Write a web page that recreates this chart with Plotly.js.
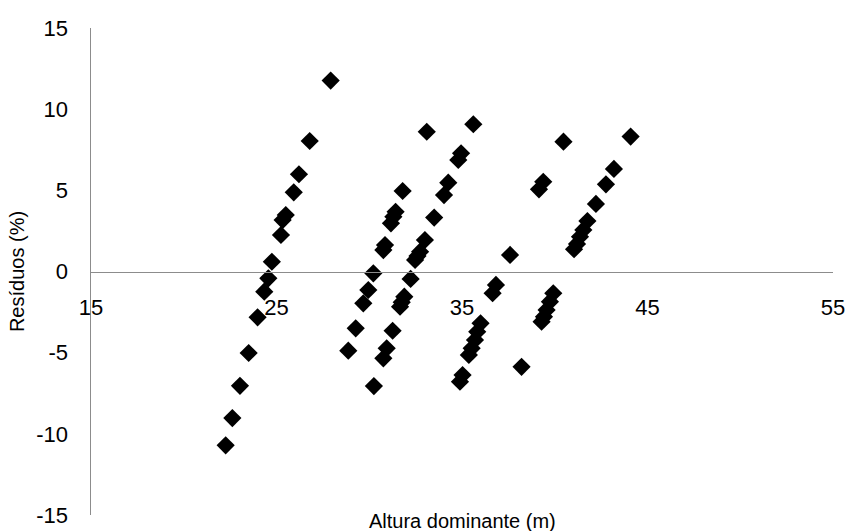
<!DOCTYPE html>
<html>
<head>
<meta charset="utf-8">
<script src="https://cdn.plot.ly/plotly-3.0.1.min.js"></script>
<style>html,body{margin:0;padding:0;background:#fff;}#chart{width:849px;height:531px;}</style>
</head>
<body>
<div id="chart"></div>
<script>
// Altura dominante (m)
const alturaDominante = [
  22.26, 22.62, 23.03, 23.50, 23.98, 24.34, 24.56, 24.75, 25.24, 25.33, 25.50, 25.93, 26.21, 26.79, 27.92,
  28.87, 29.27, 29.68, 29.95, 30.22, 30.25, 30.76, 30.85, 31.17, 31.30, 31.42, 31.80,
  30.76, 30.94, 31.26, 31.66, 31.75, 31.89, 32.23, 32.47, 32.60, 32.74, 33.00, 33.10, 33.50, 34.03, 34.26, 34.80, 34.95, 35.61,
  34.89, 35.03, 35.37, 35.52, 35.70, 35.82, 36.00, 36.65, 36.83, 37.59, 38.21,
  39.15, 39.38, 40.47, 39.29, 39.42, 39.56, 39.74, 39.92,
  41.04, 41.20, 41.36, 41.54, 41.76, 42.22, 42.76, 43.19, 44.09
];
// Resíduos (%)
const residuos = [
  -10.71, -9.03, -7.04, -5.02, -2.82, -1.24, -0.42, 0.60, 2.25, 3.17, 3.48, 4.88, 5.99, 8.04, 11.76,
  -4.88, -3.50, -1.96, -1.14, -0.11, -7.06, 1.32, 1.63, 2.97, 3.38, 3.68, 4.96,
  -5.35, -4.73, -3.65, -2.17, -1.90, -1.55, -0.46, 0.71, 0.95, 1.22, 1.94, 8.61, 3.32, 4.71, 5.47, 6.87, 7.28, 9.07,
  -6.79, -6.38, -5.14, -4.73, -4.22, -3.71, -3.19, -1.34, -0.83, 1.02, -5.87,
  5.06, 5.53, 8.00, -3.09, -2.78, -2.37, -1.86, -1.34,
  1.37, 1.70, 2.14, 2.56, 3.11, 4.16, 5.37, 6.32, 8.31
];
const xTicks = [15, 25, 35, 45, 55];
const yTicks = [-15, -10, -5, 0, 5, 10, 15];
const xTitle = 'Altura dominante (m)';
const yTitle = 'Resíduos (%)';

const FONT = 'Liberation Sans, Arial, sans-serif';
const trace = {
  type: 'scatter', mode: 'markers',
  x: alturaDominante, y: residuos,
  marker: {symbol: 'diamond', size: 14, color: '#000000', line: {width: 0}},
  cliponaxis: false,
  hoverinfo: 'x+y'
};
const layout = {
  width: 849, height: 531,
  margin: {l: 91, r: 16, t: 28, b: 16, autoexpand: false},
  paper_bgcolor: '#ffffff', plot_bgcolor: '#ffffff',
  font: {family: FONT, size: 20, color: '#000000'},
  showlegend: false,
  xaxis: {
    range: [15, 55], tickvals: xTicks, ticktext: xTicks.map(String),
    anchor: 'free', position: 0.5,
    showline: true, linecolor: '#8c8c8c', linewidth: 1.5,
    showgrid: false, zeroline: false, ticks: '',
    ticklabelstandoff: 16,
    tickfont: {family: FONT, size: 22, color: '#000000'}
  },
  yaxis: {
    range: [-15, 15], tickvals: yTicks, ticktext: yTicks.map(String),
    showline: true, linecolor: '#8c8c8c', linewidth: 1.5,
    showgrid: false, zeroline: false, ticks: '',
    ticklabelstandoff: 17,
    tickfont: {family: FONT, size: 22, color: '#000000'},
    title: {text: yTitle, font: {family: FONT, size: 20, color: '#000000'}, standoff: 6}
  },
  annotations: [{
    text: xTitle, xref: 'paper', yref: 'paper', x: 0.5, y: -0.012,
    xanchor: 'center', yanchor: 'middle', showarrow: false,
    font: {family: FONT, size: 20, color: '#000000'}
  }]
};
Plotly.newPlot('chart', [trace], layout, {displayModeBar: false, staticPlot: true});
</script>
</body>
</html>
